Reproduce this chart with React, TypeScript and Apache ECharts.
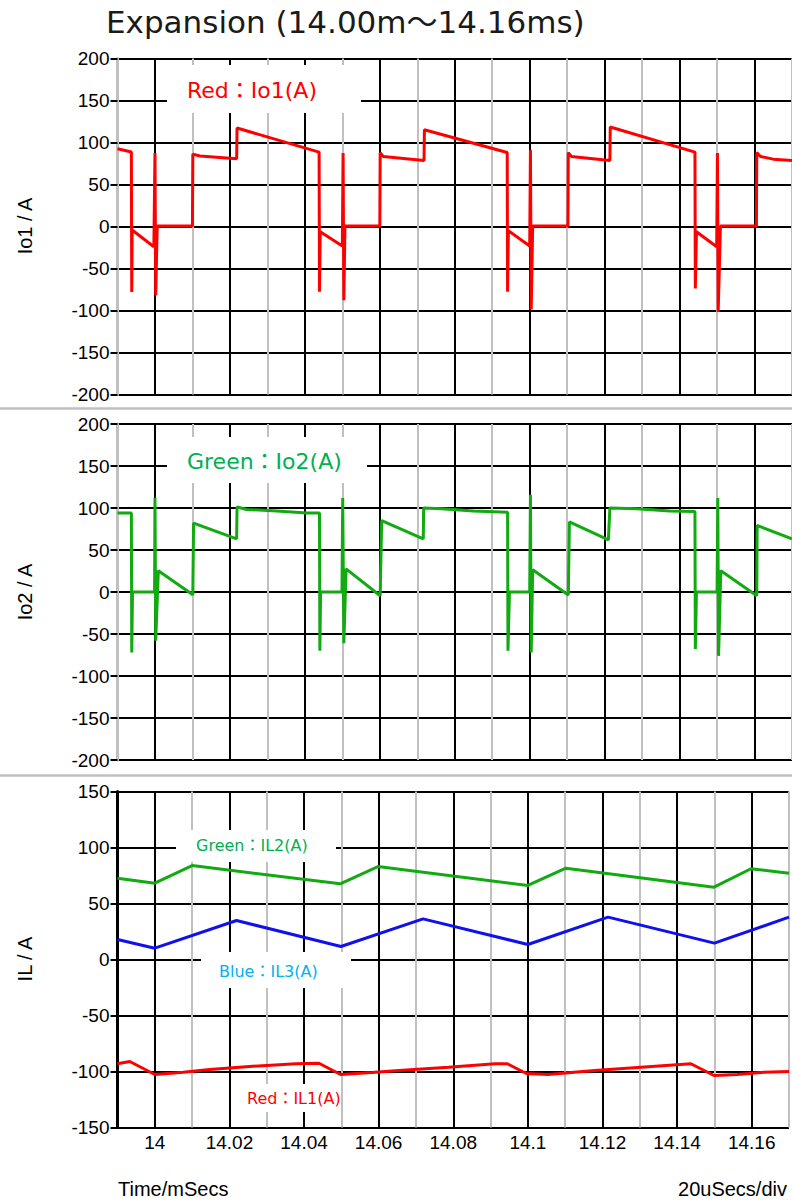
import React, { useEffect, useRef } from "react";
import * as echarts from "echarts";

const TITLE = "Expansion (14.00m～14.16ms)";
const X_MIN = 13.99;
const X_MAX = 14.17;
const X_STEP = 0.01;

const io1Data: [number, number][] = [
  [13.99, 92.5], [13.9937, 88.6], [13.9938, -78], [13.9939, -4.2], [13.9997, -24.1],
  [14.0, 87.4], [14.0002, -81.8], [14.0006, 0.6], [14.01, 0.6], [14.0101, 86.2],
  [14.012, 84], [14.0218, 80.6], [14.0219, 117.2], [14.0438, 88.6],
  [14.0439, -77.8], [14.0441, -6.2], [14.05, -23.3], [14.0502, 87.4], [14.0504, -87.8],
  [14.0507, 0.6], [14.06, 0.6], [14.0601, 88], [14.0609, 83.4], [14.0718, 78.6],
  [14.0719, 115.2], [14.094, 88.1],
  [14.0941, -77.8], [14.0943, -5], [14.1, -23.3], [14.1002, 91.3], [14.1004, -98.9],
  [14.1008, 0.6], [14.1102, 0.6], [14.1103, 88], [14.1111, 83.4], [14.1214, 78.6],
  [14.1215, 118.4], [14.1441, 88.6],
  [14.1442, -73.8], [14.1445, -6.2], [14.1499, -24.1], [14.1501, 87.4], [14.1503, -101.7],
  [14.1509, 0.6], [14.1605, 0.6], [14.1606, 88], [14.1616, 83.4], [14.165, 80.2],
  [14.17, 78.6],
];

const io2Data: [number, number][] = [
  [13.99, 94], [13.9937, 94], [13.9938, -72], [13.994, 0], [13.9999, 0],
  [14.0, 111.8], [14.0002, -58], [14.0009, 25.4], [14.0101, -3.2], [14.0103, 82],
  [14.0218, 63.3], [14.0219, 101.1], [14.0245, 98.3], [14.0325, 96.4], [14.0405, 94],
  [14.0439, 94], [14.044, -70], [14.0442, 0], [14.0499, 0],
  [14.0501, 111.8], [14.0504, -61], [14.051, 27.5], [14.0601, -4.4], [14.0605, 85.1],
  [14.0716, 63.3], [14.0717, 100], [14.0765, 99], [14.085, 96.4], [14.0941, 95],
  [14.0942, -70], [14.0946, 0], [14.1, 0],
  [14.1002, 115.8], [14.1004, -72], [14.1008, 26.6], [14.1103, -3.6], [14.1106, 83.4],
  [14.121, 62.1], [14.1214, 100], [14.1285, 99.1], [14.1374, 96.4], [14.1441, 95.8],
  [14.1442, -68], [14.1445, 0], [14.15, 0],
  [14.1502, 111.8], [14.1504, -76], [14.151, 25.4], [14.1606, -4.4], [14.1607, 79.2],
  [14.17, 63.3],
];

const il1Data: [number, number][] = [
  [13.99, -93.1], [13.9933, -91.1], [14.0, -102.7], [14.0076, -100.6], [14.0147, -98.2],
  [14.0254, -95.5], [14.0378, -93.1], [14.044, -92.6], [14.0498, -102.7], [14.0582, -100.9],
  [14.0654, -99.1], [14.0787, -96.2], [14.0912, -93.1], [14.0945, -93.1], [14.0996, -101.8],
  [14.1054, -102.7], [14.1179, -99.1], [14.1303, -96.2], [14.1437, -93.1], [14.1499, -103.6],
  [14.1561, -102.7], [14.1633, -100.6], [14.17, -100],
];

const il2Data: [number, number][] = [
  [13.99, 72.6], [14.0, 68.1], [14.01, 83.9], [14.0497, 67.6], [14.0598, 83],
  [14.1, 66.1], [14.1102, 81.5], [14.1499, 64.6], [14.1598, 81], [14.17, 77],
];

const il3Data: [number, number][] = [
  [13.99, 17.9], [14.0, 10.1], [14.0219, 34.8], [14.0499, 11.6], [14.0719, 36.3],
  [14.1, 13.4], [14.1215, 37.8], [14.15, 14.6], [14.17, 37.8],
];

const PANEL_NAMES = ["Io1 / A", "Io2 / A", "IL / A"];
const PANEL_RANGES: [number, number][] = [[-200, 200], [-200, 200], [-150, 150]];

const SANS = "Liberation Sans";
const WIDE = '"DejaVu Sans", "Noto Sans CJK JP"';

function xLabel(v: number): string {
  const k = Math.round(v * 100);
  if (k % 2 !== 0 || v < 13.995) return "";
  return String(parseFloat(v.toFixed(2)));
}

export default function App() {
  const ref = useRef<HTMLDivElement>(null);
  useEffect(() => {
    document.body.style.margin = "0";
    const chart = echarts.init(ref.current!, null, { renderer: "svg" });
    const grids = [
      { left: 117.5, right: 0, top: 58.5, height: 336 },
      { left: 117.5, right: 0, top: 424, height: 336 },
      { left: 117.5, right: 0, top: 791.5, height: 336 },
    ];
    const xAxis = grids.map((_, i) => ({
      type: "value",
      gridIndex: i,
      min: X_MIN,
      max: X_MAX,
      interval: X_STEP,
      axisLine: { show: false },
      axisTick: { show: false },
      axisLabel:
        i === 2
          ? { show: true, formatter: xLabel, fontSize: 19, color: "#000", fontFamily: SANS, margin: 5 }
          : { show: false },
      splitLine: { show: true, lineStyle: { color: ["#c0c0c0", "#000000"], width: 2 } },
    }));
    const yAxis = grids.map((_, i) => ({
      type: "value",
      gridIndex: i,
      min: PANEL_RANGES[i][0],
      max: PANEL_RANGES[i][1],
      interval: 50,
      axisLine: { show: true, lineStyle: { color: i < 2 ? "#c0c0c0" : "#000", width: 3 } },
      axisTick: { show: true, length: 7, lineStyle: { color: "#000", width: 2 } },
      axisLabel: { fontSize: 19, color: "#000", fontFamily: SANS, margin: 8 },
      splitLine: { show: true, lineStyle: { color: "#000", width: 2 } },
    }));
    const line = (data: [number, number][], idx: number, color: string) => ({
      type: "line",
      xAxisIndex: idx,
      yAxisIndex: idx,
      data,
      showSymbol: false,
      symbol: "none",
      lineStyle: { color, width: 3 },
      itemStyle: { color },
      z: 3,
    });
    const box = (x: number, y: number, w: number, h: number) => ({
      type: "rect",
      z: 1,
      shape: { x, y, width: w, height: h },
      style: { fill: "#ffffff" },
    });
    const label = (x: number, y: number, text: string, color: string, size: number) => ({
      type: "text",
      z: 1,
      x,
      y,
      style: { text, fill: color, fontSize: size, fontFamily: WIDE, align: "left", verticalAlign: "middle" },
    });
    const graphic: any[] = [
      {
        type: "line", z: 1,
        shape: { x1: 0, y1: 408.5, x2: 792, y2: 408.5 },
        style: { stroke: "#c0c0c0", lineWidth: 2.5 },
      },
      {
        type: "line", z: 1,
        shape: { x1: 0, y1: 775.5, x2: 792, y2: 775.5 },
        style: { stroke: "#c0c0c0", lineWidth: 2.5 },
      },
      {
        type: "text", x: 106, y: 22,
        style: { text: TITLE, fill: "#1a1a1a", fontSize: 31, fontFamily: WIDE, align: "left", verticalAlign: "middle" },
      },
      ...PANEL_NAMES.map((name, i) => ({
        type: "text",
        x: 25,
        y: [226, 592, 959][i],
        rotation: Math.PI / 2,
        style: { text: name, fill: "#000", fontSize: 20, fontFamily: SANS, align: "center", verticalAlign: "middle" },
      })),
      {
        type: "text", x: 118, y: 1189,
        style: { text: "Time/mSecs", fill: "#000", fontSize: 20, fontFamily: SANS, align: "left", verticalAlign: "middle" },
      },
      {
        type: "text", x: 787, y: 1189,
        style: { text: "20uSecs/div", fill: "#000", fontSize: 20, fontFamily: SANS, align: "right", verticalAlign: "middle" },
      },
      box(167, 65, 194, 48),
      label(187, 90, "Red：Io1(A)", "#ff0000", 22),
      box(167, 437, 200, 46),
      label(187, 461, "Green：Io2(A)", "#00b050", 22),
      box(176, 830, 160, 32),
      label(196, 845, "Green：IL2(A)", "#00b050", 16),
      box(201, 952, 150, 36),
      label(219, 971, "Blue：IL3(A)", "#00b0f0", 16),
      box(238, 1084, 100, 28),
      label(247, 1098, "Red：IL1(A)", "#ff0000", 16),
    ];
    chart.setOption({
      animation: false,
      backgroundColor: "#ffffff",
      grid: grids,
      xAxis,
      yAxis,
      series: [
        line(io1Data, 0, "#ff0000"),
        line(io2Data, 1, "#11aa11"),
        line(il2Data, 2, "#11aa11"),
        line(il3Data, 2, "#1010ee"),
        line(il1Data, 2, "#ff0000"),
      ],
      graphic,
    });
    return () => chart.dispose();
  }, []);
  return <div ref={ref} style={{ position: "absolute", left: 0, top: 0, width: 792, height: 1201 }} />;
}
